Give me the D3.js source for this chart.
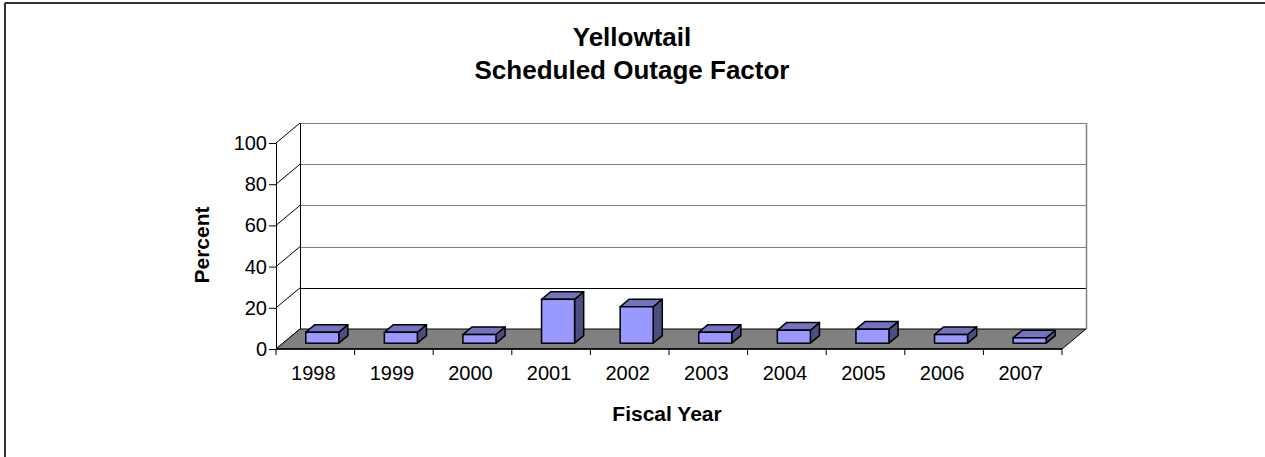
<!DOCTYPE html>
<html>
<head>
<meta charset="utf-8">
<script src="https://cdn.jsdelivr.net/npm/d3@7"></script>
<style>
  body { margin: 0; background: #fff; }
  svg { display: block; font-family: Arial, "Liberation Sans", sans-serif; }
</style>
</head>
<body>
<div id="chart"></div>
<script>
// data
var years = ["1998", "1999", "2000", "2001", "2002", "2003", "2004", "2005", "2006", "2007"];
var outage = [5.3, 5.3, 4.2, 21.3, 17.7, 5.3, 6.3, 6.8, 4.2, 2.6];
var yTicks = [0, 20, 40, 60, 80, 100];

var W = 1265, H = 457;

// front plane of the 3d box
var left = 276, right = 1062, floorY = 349, topY = 143;
// depth of the box (walls) and of the bars
var depthX = 24, depthY = -20;
var barD0 = 0.29, barD1 = 0.67;

var svg = d3.select("#chart")
  .append("svg")
  .attr("width", W)
  .attr("height", H);

// outer frame (only top and left show)
svg.append("line").attr("x1", 5).attr("y1", 3).attr("x2", W).attr("y2", 3)
  .attr("stroke", "#333").attr("stroke-width", 2);
svg.append("line").attr("x1", 5).attr("y1", 3).attr("x2", 5).attr("y2", H)
  .attr("stroke", "#333").attr("stroke-width", 2);

var x = d3.scaleBand()
  .domain(years)
  .range([left, right]);

var xBar = d3.scaleBand()
  .domain(years)
  .range([left, right])
  .paddingInner(0.58)
  .paddingOuter(0.29);

var y = d3.scaleLinear()
  .domain([0, 100])
  .range([floorY, topY]);

// back wall
svg.append("rect")
  .attr("x", left + depthX)
  .attr("y", y(100) + depthY)
  .attr("width", right - left)
  .attr("height", y(0) - y(100))
  .attr("fill", "#fff");

// gridlines on back wall
svg.selectAll(".grid")
  .data(yTicks.filter(function(d) { return d > 0; }))
  .enter()
  .append("line")
  .attr("x1", left + depthX)
  .attr("x2", right + depthX)
  .attr("y1", function(d) { return Math.round(y(d) + depthY) + 0.5; })
  .attr("y2", function(d) { return Math.round(y(d) + depthY) + 0.5; })
  .attr("stroke", function(d) { return d == 20 ? "#000" : "#808080"; })
  .attr("stroke-width", 1);

// right edge of back wall
svg.append("line")
  .attr("x1", right + depthX + 0.5).attr("x2", right + depthX + 0.5)
  .attr("y1", y(100) + depthY).attr("y2", y(0) + depthY)
  .attr("stroke", "#808080").attr("stroke-width", 1.5);

// left edge of back wall
svg.append("line")
  .attr("x1", left + depthX + 0.5).attr("x2", left + depthX + 0.5)
  .attr("y1", y(100) + depthY).attr("y2", y(0) + depthY)
  .attr("stroke", "#000").attr("stroke-width", 1);

// left wall diagonals
svg.selectAll(".diag")
  .data(yTicks)
  .enter()
  .append("line")
  .attr("x1", left)
  .attr("y1", function(d) { return y(d); })
  .attr("x2", left + depthX)
  .attr("y2", function(d) { return y(d) + depthY; })
  .attr("stroke", "#000")
  .attr("stroke-width", 1);

// floor
svg.append("polygon")
  .attr("points", [
    [left, y(0)], [left + depthX, y(0) + depthY],
    [right + depthX, y(0) + depthY], [right, y(0)]
  ].map(function(p) { return p.join(","); }).join(" "))
  .attr("fill", "#808080")
  .attr("stroke", "#000")
  .attr("stroke-width", 1);

// bars
var bars = svg.selectAll(".bar")
  .data(years.map(function(d, i) { return { year: d, value: outage[i] }; }))
  .enter()
  .append("g");

var ox0 = depthX * barD0, oy0 = depthY * barD0;
var ox1 = depthX * barD1, oy1 = depthY * barD1;

function pts(arr) {
  return arr.map(function(p) { return p.join(","); }).join(" ");
}

// side face
bars.append("polygon")
  .attr("points", function(d) {
    var x1 = xBar(d.year) + xBar.bandwidth();
    return pts([
      [x1 + ox0, y(0) + oy0], [x1 + ox1, y(0) + oy1],
      [x1 + ox1, y(d.value) + oy1], [x1 + ox0, y(d.value) + oy0]
    ]);
  })
  .attr("fill", "#4d4d80")
  .attr("stroke", "#000")
  .attr("stroke-width", 1.5)
  .attr("stroke-linejoin", "round");

// top face
bars.append("polygon")
  .attr("points", function(d) {
    var x0 = xBar(d.year), x1 = x0 + xBar.bandwidth();
    return pts([
      [x0 + ox0, y(d.value) + oy0], [x0 + ox1, y(d.value) + oy1],
      [x1 + ox1, y(d.value) + oy1], [x1 + ox0, y(d.value) + oy0]
    ]);
  })
  .attr("fill", "#7373bf")
  .attr("stroke", "#000")
  .attr("stroke-width", 1.5)
  .attr("stroke-linejoin", "round");

// front face
bars.append("rect")
  .attr("x", function(d) { return xBar(d.year) + ox0; })
  .attr("y", function(d) { return y(d.value) + oy0; })
  .attr("width", xBar.bandwidth())
  .attr("height", function(d) { return y(0) - y(d.value); })
  .attr("fill", "#9999ff")
  .attr("stroke", "#000")
  .attr("stroke-width", 1.5);

// front vertical axis
var yAxis = svg.append("g")
  .attr("transform", "translate(" + left + ",0)")
  .call(d3.axisLeft(y).tickValues(yTicks).tickSize(7).tickPadding(2));
yAxis.select(".domain").attr("stroke", "#000");
yAxis.selectAll("text")
  .attr("font-size", "20px")
  .attr("font-family", "Arial, 'Liberation Sans', sans-serif")
  .attr("fill", "#000");

// front floor edge + ticks at category boundaries
var bounds = years.map(function(d) { return x(d); }).concat([right]);
svg.append("line")
  .attr("x1", left).attr("x2", right)
  .attr("y1", y(0)).attr("y2", y(0))
  .attr("stroke", "#000").attr("stroke-width", 1.5);
svg.selectAll(".xtick")
  .data(bounds)
  .enter()
  .append("line")
  .attr("x1", function(d) { return d; })
  .attr("x2", function(d) { return d; })
  .attr("y1", y(0))
  .attr("y2", y(0) + 6)
  .attr("stroke", "#000");

svg.selectAll(".xlabel")
  .data(years)
  .enter()
  .append("text")
  .attr("x", function(d) { return x(d) + x.bandwidth() / 2 - 2; })
  .attr("y", 380)
  .attr("text-anchor", "middle")
  .attr("font-size", "20px")
  .text(function(d) { return d; });

// titles
svg.append("text")
  .attr("x", 632).attr("y", 46)
  .attr("text-anchor", "middle")
  .attr("font-size", "26px").attr("font-weight", "bold")
  .text("Yellowtail");
svg.append("text")
  .attr("x", 632).attr("y", 79)
  .attr("text-anchor", "middle")
  .attr("font-size", "26px").attr("font-weight", "bold")
  .text("Scheduled Outage Factor");

svg.append("text")
  .attr("transform", "translate(209,245) rotate(-90)")
  .attr("text-anchor", "middle")
  .attr("font-size", "21px").attr("font-weight", "bold")
  .text("Percent");

svg.append("text")
  .attr("x", 667).attr("y", 421)
  .attr("text-anchor", "middle")
  .attr("font-size", "21px").attr("font-weight", "bold")
  .text("Fiscal Year");
</script>
</body>
</html>
